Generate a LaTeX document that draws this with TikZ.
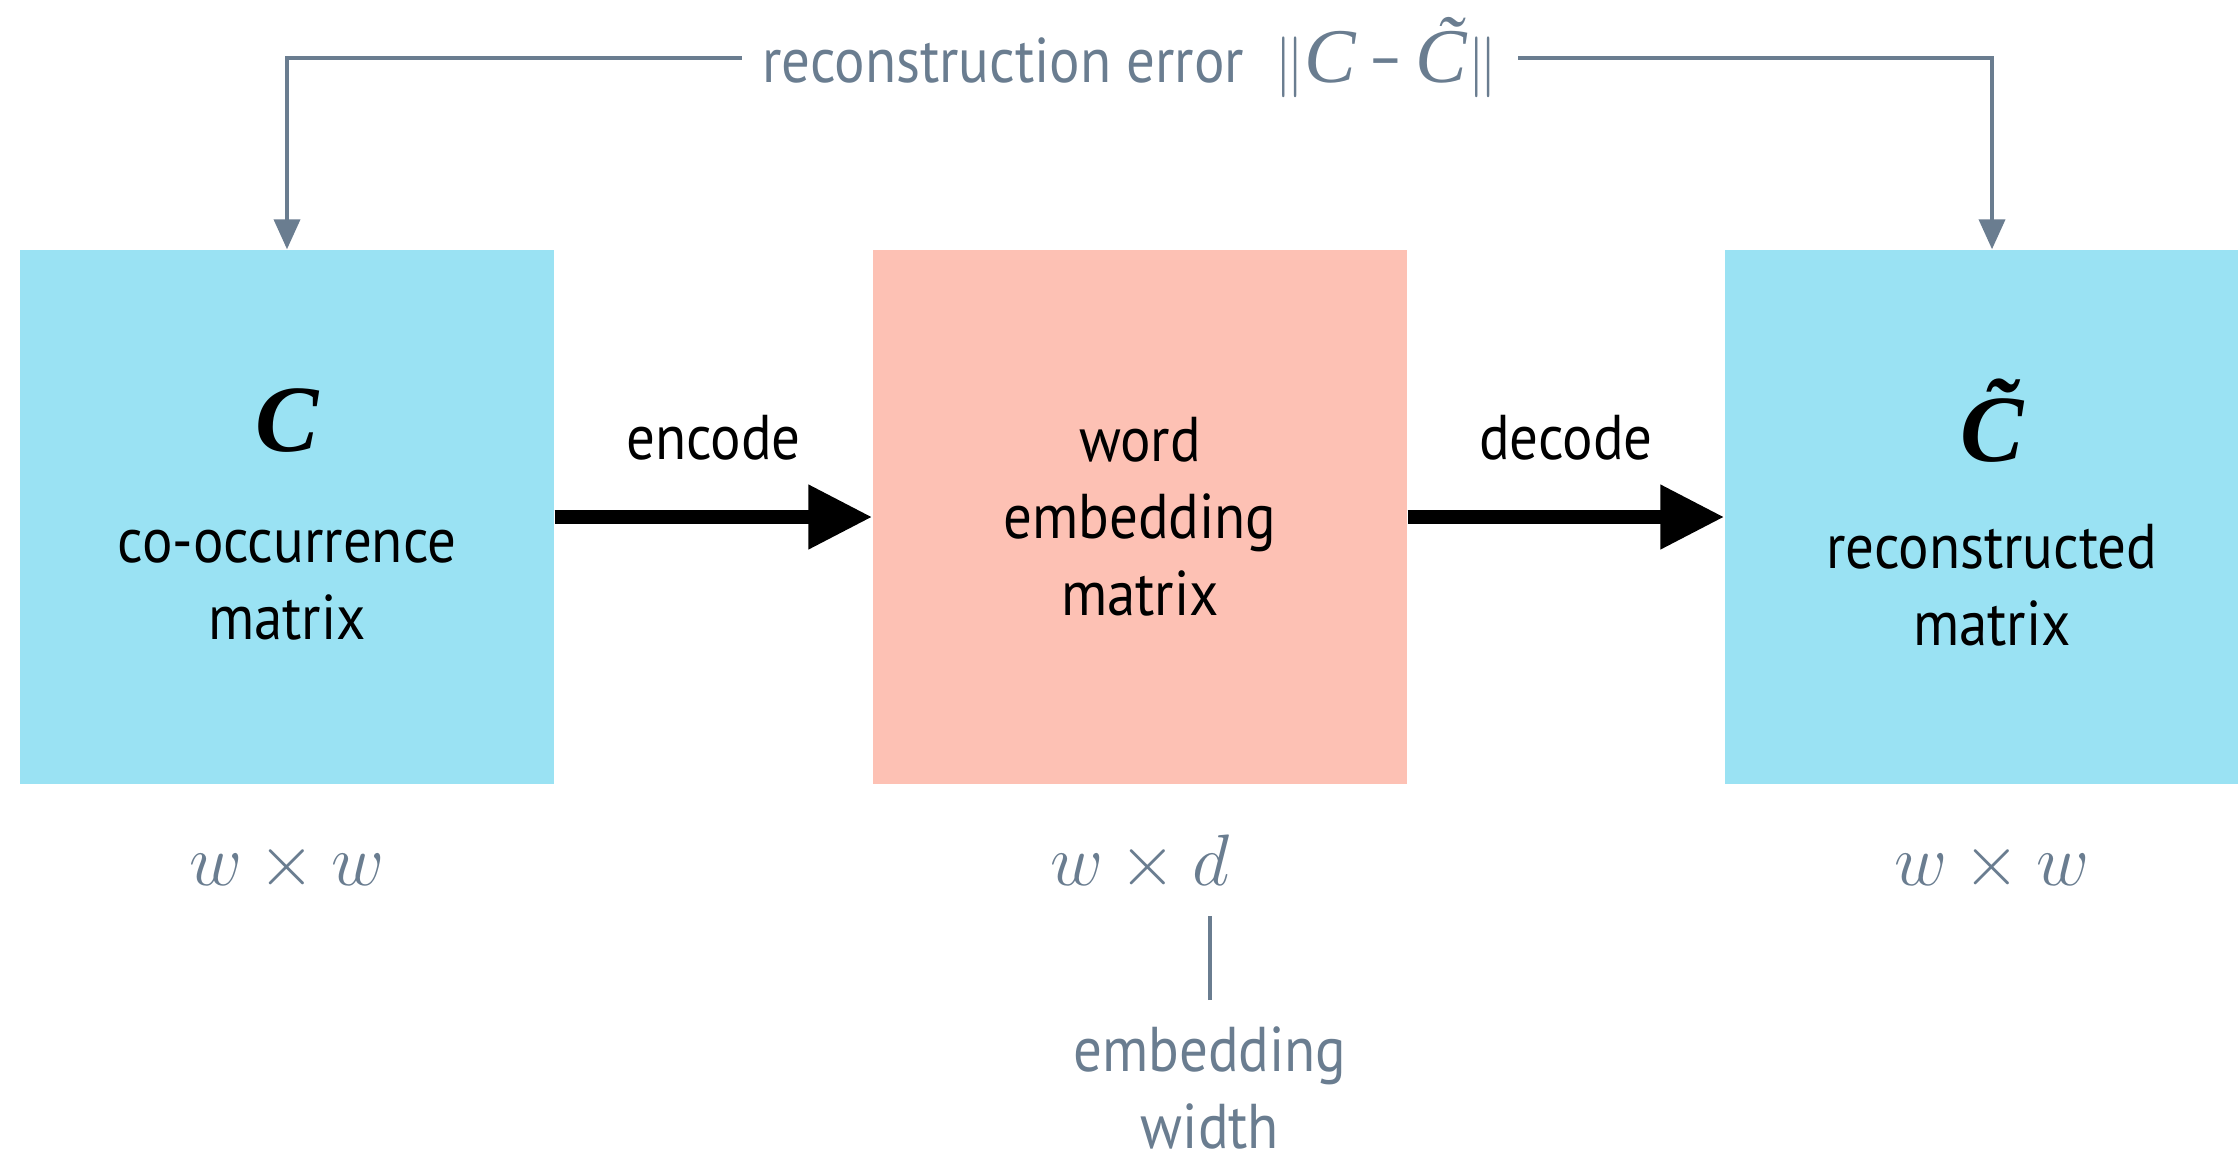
\documentclass[tikz,border=0pt]{standalone}
\usepackage{fontspec}
\setmainfont{PT Sans}[FakeStretch=0.9]
\newfontfamily\serif{Liberation Serif}
\usetikzlibrary{positioning,arrows.meta}
\definecolor{cooccolor}{HTML}{9AE2F3}
\definecolor{embedcolor}{HTML}{FDC1B4}
\definecolor{slate}{HTML}{6A7D90}
\tikzset{
  matbox/.style={minimum size=5.34cm, inner sep=0pt, draw=none},
  bigarrow/.style={line width=4pt, -{Triangle[length=6.4mm,width=6.1mm]}},
  errarrow/.style={slate, line width=1.1pt, -{Triangle[length=3mm,width=2.6mm]}},
  caption/.style={font=\fontsize{18}{21.9}\selectfont, align=center, inner sep=0pt},
  dims/.style={slate, font=\fontsize{22}{26}\selectfont, inner sep=0pt, anchor=base},
  symb/.style={inner sep=0pt, font=\serif\bfseries\itshape\fontsize{27}{27}\selectfont},
}
\begin{document}
\begin{tikzpicture}
	\useasboundingbox (0,0) rectangle (22.38,11.62);
	\node[matbox, fill=cooccolor] (cooc) at (2.87,6.45) {};
	\node[matbox, fill=embedcolor] (emb) at (11.40,6.45) {};
	\node[matbox, fill=cooccolor] (recon) at (19.92,6.45) {};
	\node[symb] (csym) at ([yshift=0.96cm]cooc.center) {C};
	\node[caption] (ctext) at ([yshift=-0.68cm]cooc.center) {co-occurrence\\matrix};
	\node[caption] (etext) at (emb.center) {word\\embedding\\matrix};
	\node[symb] (rsym) at ([yshift=0.96cm]recon.center) {C̃};
	\node[caption] (rtext) at ([yshift=-0.68cm]recon.center) {reconstructed\\matrix};
	\draw[bigarrow] (cooc) -- node[caption, above=0.5cm] (enc) {encode} (emb);
	\draw[bigarrow] (emb) -- node[caption, above=0.5cm] (dec) {decode} (recon);
	\node[caption, slate, inner xsep=0.2cm] (err) at (11.30,11.04) {reconstruction error\ \ $\|${\serif\itshape\fontsize{22}{22}\selectfont C} − {\serif\itshape\fontsize{22}{22}\selectfont C̃}$\|$};
	\draw[errarrow] (err.west) -| (cooc.north);
	\draw[errarrow] (err.east) -| (recon.north);
	\node[dims] (cdim) at ([yshift=-1.01cm]cooc.south) {$w\times w$};
	\node[dims] (edim) at ([yshift=-1.01cm]emb.south) {$w\times d$};
	\node[dims] (rdim) at ([yshift=-1.01cm]recon.south) {$w\times w$};
	\node[caption, slate, anchor=north] (ewidth) at (12.10,1.36) {embedding\\width};
	\draw[slate, line width=1.1pt] ([yshift=0.26cm]ewidth.north) -- ([yshift=-0.24cm]ewidth.north |- edim.south);
\end{tikzpicture}
\end{document}
